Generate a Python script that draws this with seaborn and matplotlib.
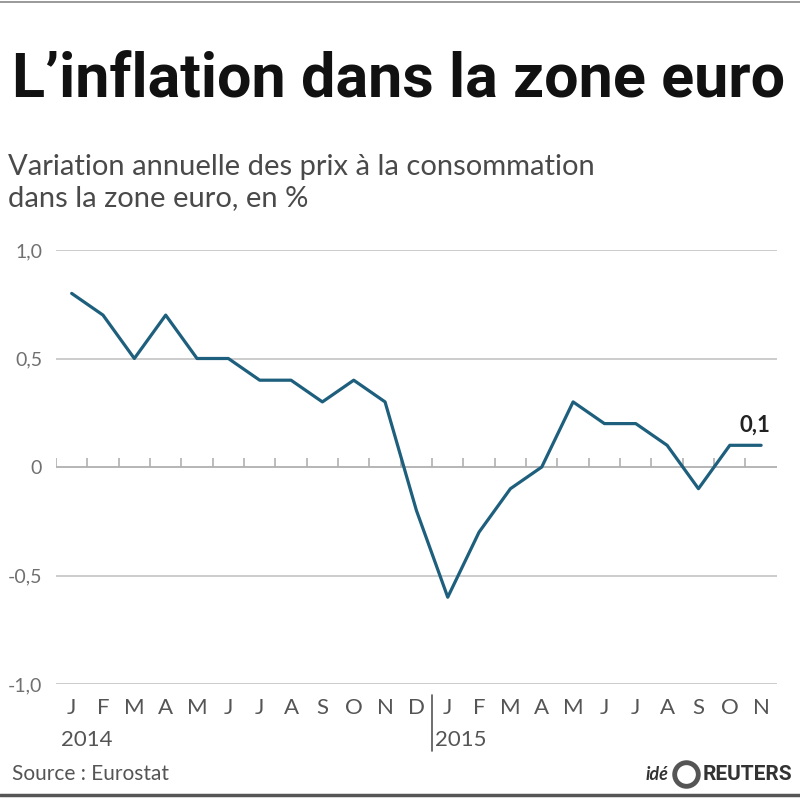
import numpy as np
import pandas as pd
import seaborn as sns
import matplotlib.pyplot as plt
from matplotlib.lines import Line2D
import matplotlib.transforms as mtransforms

months = ["J", "F", "M", "A", "M", "J", "J", "A", "S", "O", "N", "D",
          "J", "F", "M", "A", "M", "J", "J", "A", "S", "O", "N"]
years = ["2014", "2015"]
inflation = [0.8, 0.7, 0.5, 0.7, 0.5, 0.5, 0.4, 0.4, 0.3, 0.4, 0.3, -0.2,
             -0.6, -0.3, -0.1, 0.0, 0.3, 0.2, 0.2, 0.1, -0.1, 0.1, 0.1]
yticks = [-1.0, -0.5, 0.0, 0.5, 1.0]
ytick_labels = ["-1,0", "-0,5", "0", "0,5", "1,0"]

df = pd.DataFrame({"idx": np.arange(len(inflation)), "val": inflation})

sns.set_style("white")
plt.rcParams["font.family"] = ["Lato", "DejaVu Sans"]

fig = plt.figure(figsize=(8, 8), dpi=100)
ax = fig.add_axes([0.07, 0.145, 0.901, 0.5425])

line_col = "#1d5f7c"
sns.lineplot(data=df, x="idx", y="val", ax=ax, color=line_col, linewidth=2.3)

ax.set_xlim(-0.5, len(inflation) - 0.5)
ax.set_ylim(-1, 1)
for y in yticks:
    ax.axhline(y, color="#c8c8c8" if y != 0 else "#b0b0b0", lw=1.3, zorder=0)

# small month ticks on zero line
bounds = np.arange(len(inflation)) - 0.5
ax.vlines(bounds, 0, 0.04, color="#b0b0b0", lw=1.2, zorder=0)

for s in ax.spines.values():
    s.set_visible(False)

ax.set_yticks(yticks)
ax.set_yticklabels(ytick_labels)
ax.set_xticks(df["idx"])
ax.set_xticklabels(months)
ax.tick_params(axis="y", length=0, pad=10, labelsize=14, labelcolor="#707070")
ax.tick_params(axis="x", length=0, pad=10, labelsize=16, labelcolor="#555555")
ax.set_xlabel("")
ax.set_ylabel("")

trans = mtransforms.blended_transform_factory(ax.transData, ax.transAxes)
ax.text(-0.35, -0.13, years[0], transform=trans, fontsize=16, color="#555555",
        ha="left", va="center")
ax.text(11.6, -0.13, years[1], transform=trans, fontsize=16, color="#555555",
        ha="left", va="center")
ax.plot([11.5, 11.5], [-0.025, -0.155], transform=trans, color="#555555",
        lw=1.2, clip_on=False)

ax.annotate("0,1", (len(inflation) - 1.2, inflation[-1]), xytext=(0, 7),
            textcoords="offset points", ha="center", va="bottom",
            fontsize=16, fontweight="bold", color="#222222")

fig.text(0.015, 0.9, "L’inflation dans la zone euro", fontsize=44,
         fontweight="bold", color="#111111", ha="left", va="center",
         family=["Liberation Sans Narrow", "Roboto", "DejaVu Sans"])
fig.text(0.01, 0.772, "Variation annuelle des prix à la consommation\ndans la zone euro, en %",
         fontsize=21, color="#4a4a4a", ha="left", va="center", linespacing=1.25)

fig.text(0.015, 0.032, "Source : Eurostat", fontsize=15, color="#555555",
         ha="left", va="center")
fig.text(0.99, 0.032, "REUTERS", fontsize=15, fontweight="bold", color="#333333",
         ha="right", va="center", family=["Roboto", "DejaVu Sans"])
fig.text(0.835, 0.032, "idé", fontsize=13, fontweight="bold", style="italic",
         color="#333333", ha="right", va="center")
fig.add_artist(Line2D([0.858], [0.032], marker="o", markersize=17, markerfacecolor="white",
                      markeredgecolor="#555555", markeredgewidth=3.5, transform=fig.transFigure))

fig.add_artist(Line2D([0, 1], [0.997, 0.997], color="#888888", lw=1.2,
                      transform=fig.transFigure))
fig.add_artist(Line2D([0, 1], [0.006, 0.006], color="#555555", lw=2.5,
                      transform=fig.transFigure))

fig.savefig("out.png", dpi=100)
